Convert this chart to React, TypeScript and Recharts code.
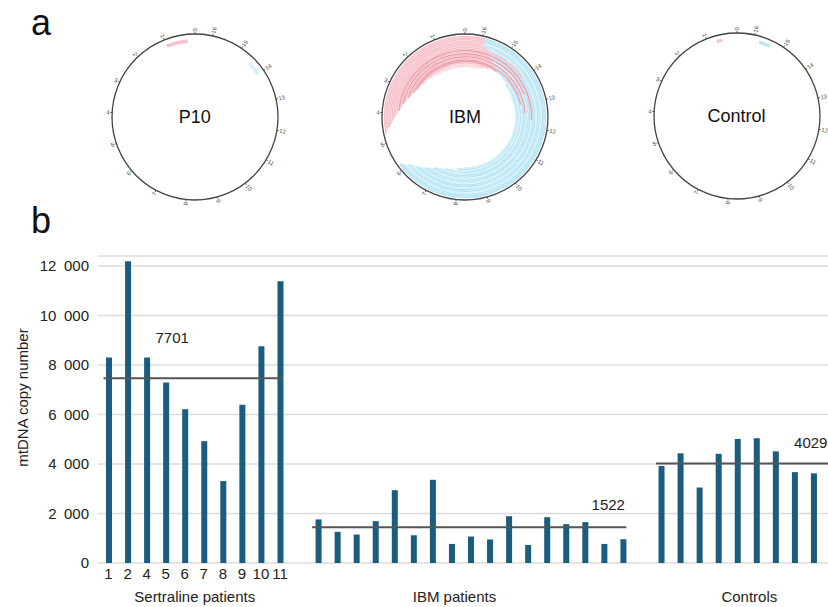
import React from 'react';
import {
  BarChart, Bar, XAxis, YAxis, CartesianGrid, ReferenceLine,
  RadialBarChart, RadialBar, PolarAngleAxis, PolarRadiusAxis, Cell,
} from 'recharts';

const FONT = '"Liberation Sans", Arial, Helvetica, sans-serif';

// ---------- panel b data ----------
const sertralineLabels = ['1', '2', '4', '5', '6', '7', '8', '9', '10', '11'];
const sertralineValues = [8300, 12190, 8300, 7290, 6210, 4920, 3310, 6390, 8750, 11380];
const ibmValues = [1760, 1260, 1150, 1690, 2940, 1120, 3360, 770, 1070, 950, 1890, 730, 1850, 1570, 1650, 770, 960];
const controlValues = [3920, 4430, 3050, 4410, 5010, 5040, 4510, 3670, 3620];
const groupNames = ['Sertraline patients', 'IBM patients', 'Controls'];
const meanLineValues = [7460, 1445, 4022];
const meanLabels = ['7701', '1522', '4029'];
const yTicks = [0, 2000, 4000, 6000, 8000, 10000, 12000];

// ---------- panel a data ----------
const GENOME = 16.569; // kb
const kbTicks = [0, 1, 2, 3, 4, 5, 6, 7, 8, 9, 10, 11, 12, 13, 14, 15, 16];
const circleTitles = ['P10', 'IBM', 'Control'];
type ArcSpec = [number, number, string]; // start kb, end kb, colour code
// rings listed inner -> outer
const p10Rings: ArcSpec[][] = [[], [], [[0.25, 1.0, 'p'], [14.0, 14.5, 'l']], []];
const controlRings: ArcSpec[][] = [[], [], [[0.5, 0.7, 'p'], [15.4, 15.8, 'b']], []];
const ibmRings: ArcSpec[][] = [
  [[8.2, 13.6, 'l'], [15.8, 1.5, 'q']],
  [[7.9, 14.2, 'b'], [15.6, 2.0, 'q']],
  [[7.6, 14.6, 'l'], [15.4, 2.4, 'p']],
  [[7.3, 15.0, 'b'], [15.0, 2.8, 'r']],
  [[7.1, 13.0, 'l'], [13.0, 3.0, 'r']],
  [[6.9, 15.2, 'b'], [15.2, 3.2, 'p']],
  [[6.8, 12.6, 'b'], [12.6, 3.3, 'r']],
  [[6.7, 15.3, 'l'], [15.3, 3.5, 'p']],
  [[6.6, 13.4, 'b'], [13.4, 3.6, 'r']],
  [[6.5, 15.5, 'b'], [15.5, 3.8, 'p']],
  [[6.4, 12.3, 'l'], [12.3, 3.9, 'r']],
  [[6.3, 15.6, 'b'], [15.6, 4.0, 'p']],
  [[6.2, 14.0, 'b'], [14.0, 4.1, 'p']],
  [[6.1, 15.7, 'l'], [15.7, 4.2, 'p']],
  [[6.0, 15.8, 'b'], [15.8, 4.3, 'p']],
  [[6.0, 15.9, 'b'], [15.9, 4.4, 'p']],
  [[5.9, 15.9, 'l'], [15.9, 4.5, 'p']],
  [[5.9, 15.9, 'b'], [15.9, 4.5, 'p']],
  [[5.8, 15.9, 'b'], [15.9, 4.6, 'p']],
  [[5.8, 15.9, 'b'], [15.9, 4.7, 'p']],
  [],
];

const ARC_COLORS: Record<string, string> = {
  p: '#f8c2cc', q: '#fbd8de', r: '#ee9eab', b: '#b8e5f5', l: '#d5f1fa',
};
const SERIES = ['a', 'b', 'c', 'd'];

function buildRings(rings: ArcSpec[][]) {
  return rings.map((arcs, i) => {
    const row: any = { ring: `r${i}` };
    const parts: ArcSpec[] = [];
    arcs.forEach(([s, e, c]) => {
      if (s <= e) parts.push([s, e, c]);
      else {
        parts.push([s, GENOME, c]);
        parts.push([0, e, c]);
      }
    });
    SERIES.forEach((k, j) => {
      const p = parts[j];
      row[k] = p ? [p[0], p[1]] : [0, 0];
      row[k + 'Fill'] = p ? ARC_COLORS[p[2]] : 'none';
    });
    return row;
  });
}

function makeAngleTick(cx: number, cy: number) {
  return (props: any) => {
    const { x, y, payload } = props;
    const dx = x - cx;
    const dy = y - cy;
    const r = Math.hypot(dx, dy) || 1;
    const ux = dx / r;
    const uy = dy / r;
    const px = x + ux * 0.5;
    const py = y + uy * 0.5;
    let ang = (Math.atan2(dy, dx) * 180) / Math.PI;
    let anchor: 'start' | 'end' = 'start';
    if (ux < -0.05) {
      ang += 180;
      anchor = 'end';
    }
    return (
      <text
        x={px}
        y={py}
        transform={`rotate(${ang} ${px} ${py})`}
        textAnchor={anchor}
        dominantBaseline="central"
        fontSize={5.8}
        fill="#444"
        fontFamily={FONT}
      >
        {Math.round(payload.value)}
      </text>
    );
  };
}

function MtCircle(props: {
  title: string; rings: ArcSpec[][]; cx: number; cy: number; inner: number; barSize: number;
}) {
  const { title, rings, cx, cy, inner, barSize } = props;
  const data = buildRings(rings);
  const W = 240;
  const H = 200;
  const R = 83;
  return (
    <div style={{ position: 'absolute', left: cx - W / 2, top: cy - H / 2, width: W, height: H }}>
      <RadialBarChart
        width={W}
        height={H}
        cx={W / 2}
        cy={H / 2}
        innerRadius={inner}
        outerRadius={R}
        startAngle={90}
        endAngle={450}
        data={data}
        barSize={barSize}
        barGap={-barSize}
        margin={{ top: 0, right: 0, bottom: 0, left: 0 }}
      >
        <PolarAngleAxis
          type="number"
          domain={[0, GENOME]}
          ticks={kbTicks as any}
          tick={makeAngleTick(W / 2, H / 2)}
          tickSize={2}
          axisLineType="circle"
          axisLine={{ stroke: '#444', strokeWidth: 1.3 }}
          tickLine={{ stroke: '#444', strokeWidth: 0.8 }}
        />
        <PolarRadiusAxis type="category" dataKey="ring" tick={false} axisLine={false} />
        {SERIES.map((k) => (
          <RadialBar key={k} dataKey={k} isAnimationActive={false}>
            {data.map((r: any, i: number) => (
              <Cell key={i} fill={r[k + 'Fill']} />
            ))}
          </RadialBar>
        ))}
      </RadialBarChart>
      <div
        style={{
          position: 'absolute', left: W / 2, top: H / 2, transform: 'translate(-50%, -50%)',
          fontSize: 18, color: '#111', fontFamily: FONT, whiteSpace: 'nowrap', lineHeight: '20px',
        }}
      >
        {title}
      </div>
    </div>
  );
}

// ---------- build bar rows ----------
type Row = { id: string; label: string; value: number | null };
const rows: Row[] = [];
sertralineValues.forEach((v, i) => rows.push({ id: `S${i}`, label: sertralineLabels[i], value: v }));
rows.push({ id: 'gap1', label: '', value: null });
ibmValues.forEach((v, i) => rows.push({ id: `I${i}`, label: '', value: v }));
rows.push({ id: 'gap2', label: '', value: null });
controlValues.forEach((v, i) => rows.push({ id: `C${i}`, label: '', value: v }));
const rowById = new Map(rows.map((r) => [r.id, r]));

const groupAnchors: Record<string, { name: string; dx: number }> = {
  S4: { name: groupNames[0], dx: 10 },
  I7: { name: groupNames[1], dx: 3 },
  C5: { name: groupNames[2], dx: -7 },
};

function XTick(props: any) {
  const { x, y, payload } = props;
  const row = rowById.get(payload.value);
  if (!row) return null;
  const grp = groupAnchors[row.id];
  return (
    <g>
      {row.label ? (
        <text x={x} y={y} dy="0.71em" textAnchor="middle" fontSize={15} fill="#222" fontFamily={FONT}>
          {row.label}
        </text>
      ) : null}
      {grp ? (
        <text x={x + grp.dx} y={y + 34} textAnchor="middle" fontSize={15} fill="#222" fontFamily={FONT}>
          {grp.name}
        </text>
      ) : null}
    </g>
  );
}

const fmtY = (v: number) =>
  v === 0 ? '0' : `${Math.floor(v / 1000)}\u2002${String(v % 1000).padStart(3, '0')}`;

const meanDefs = [
  { from: 'S0', to: 'S9', ext: [-5, 3], lab: { ref: 'x1', dx: 47, dy: -35, anchor: 'start' } },
  { from: 'I0', to: 'I16', ext: [-6, 3.4], lab: { ref: 'x2', dx: 2, dy: -17, anchor: 'end' } },
  { from: 'C0', to: 'C8', ext: [-5, 15], lab: { ref: 'x2', dx: 14, dy: -15.6, anchor: 'end' } },
];

function makeMeanShape(i: number) {
  const d = meanDefs[i];
  return (p: any) => {
    const { x1, y1, x2, y2 } = p;
    const lx = (d.lab.ref === 'x1' ? x1 : x2) + d.lab.dx;
    return (
      <g>
        <line x1={x1 + d.ext[0]} y1={y1} x2={x2 + d.ext[1]} y2={y2} stroke="#555" strokeWidth={2} />
        <text x={lx} y={y1 + d.lab.dy} textAnchor={d.lab.anchor as any} fontSize={15} fill="#222" fontFamily={FONT}>
          {meanLabels[i]}
        </text>
      </g>
    );
  };
}

export default function App() {
  return (
    <div
      style={{
        position: 'absolute', left: 0, top: 0, width: 828, height: 607, background: '#fff',
        fontFamily: FONT, overflow: 'hidden',
      }}
    >
      <div style={{ position: 'absolute', left: 31, top: 4.5, fontSize: 36, lineHeight: '36px', color: '#111' }}>a</div>
      <div style={{ position: 'absolute', left: 31, top: 202.5, fontSize: 36, lineHeight: '36px', color: '#111' }}>b</div>

      <MtCircle title={circleTitles[0]} rings={p10Rings} cx={194.7} cy={116.7} inner={66} barSize={3.6} />
      <MtCircle title={circleTitles[1]} rings={ibmRings} cx={465} cy={117} inner={50} barSize={1.45} />
      <MtCircle title={circleTitles[2]} rings={controlRings} cx={736.5} cy={116.3} inner={66} barSize={3.2} />

      <div style={{ position: 'absolute', left: 0, top: 240 }}>
        <BarChart
          width={828}
          height={367}
          data={rows}
          margin={{ top: 16, right: 0, left: 28, bottom: 0 }}
          barSize={6}
        >
          <CartesianGrid vertical={false} stroke="#dcdcdc" strokeWidth={1.5} />
          <XAxis
            dataKey="id"
            interval={0}
            tick={<XTick />}
            tickLine={false}
            axisLine={false}
            tickSize={0}
            tickMargin={5}
            height={44}
            padding={{ left: 1, right: 5 }}
          />
          <YAxis
            domain={[0, 12400]}
            ticks={yTicks}
            tickFormatter={fmtY}
            width={70}
            tickLine={false}
            axisLine={false}
            tickMargin={3}
            tick={{ fontSize: 15, fill: '#222', fontFamily: FONT }}
            label={{
              value: 'mtDNA copy number', angle: -90, position: 'center', dx: -40.5, dy: -12,
              fontSize: 15, fill: '#222', fontFamily: FONT,
            }}
          />
          <Bar dataKey="value" fill="#1b5d7e" isAnimationActive={false} />
          {meanDefs.map((d, i) => (
            <ReferenceLine
              key={i}
              segment={[{ x: d.from, y: meanLineValues[i] }, { x: d.to, y: meanLineValues[i] }]}
              shape={makeMeanShape(i)}
            />
          ))}
        </BarChart>
      </div>
    </div>
  );
}
